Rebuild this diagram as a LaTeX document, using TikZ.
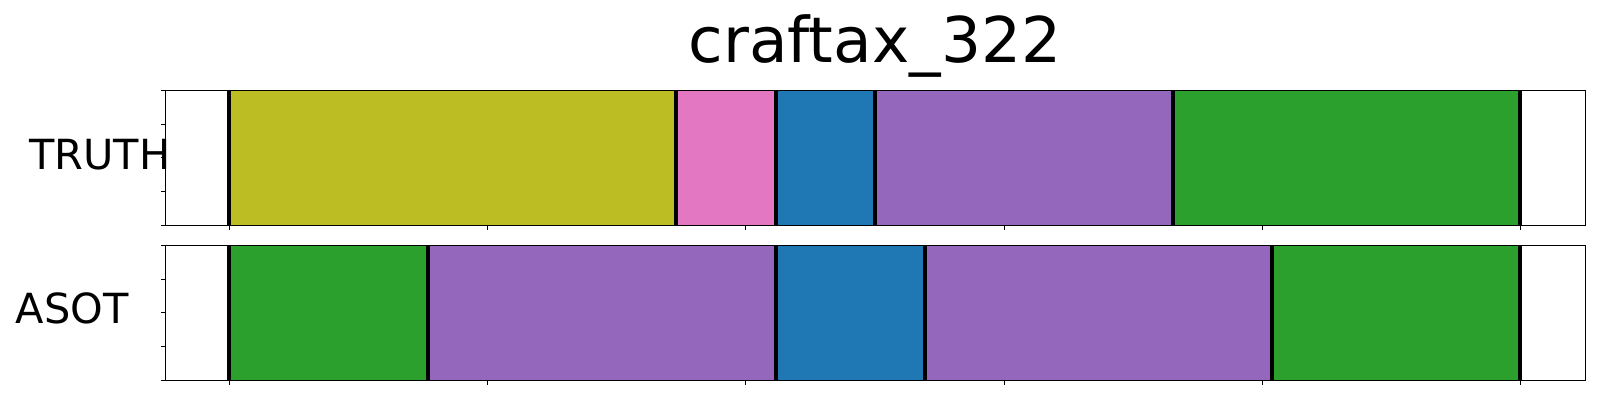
\documentclass[tikz,border=0pt]{standalone}
\usepackage{fontspec}
\setmainfont{DejaVu Sans}
\definecolor{tabolive}{HTML}{BCBD22}
\definecolor{tabpink}{HTML}{E377C2}
\definecolor{tabblue}{HTML}{1F77B4}
\definecolor{tabpurple}{HTML}{9467BD}
\definecolor{tabgreen}{HTML}{2CA02C}
\tikzstyle{frame}=[draw=black, line width=0.6pt]
\tikzstyle{cut}=[-, line width=2pt, black]
\tikzstyle{tickmark}=[-, line width=0.5pt, black]
\tikzstyle{rowlabel}=[inner sep=0pt, anchor=base west, font=\fontsize{20.75}{24}\selectfont]

\begin{document}
\begin{tikzpicture}[x=0.5pt, y=-0.5pt]
    \useasboundingbox (0,0) rectangle (1600,400);

    % TRUTH row
    \foreach \a/\b/\c in {229/675.7/tabolive, 675.7/775.7/tabpink, 775.7/874.7/tabblue,
                          874.7/1173/tabpurple, 1173/1520/tabgreen}
        \fill [\c] (\a,90.3) rectangle (\b,225.3);
    \foreach \x in {229,675.7,775.7,874.7,1173,1520}
        \draw [cut] (\x,90.3) -- (\x,225.3);
    \draw [frame] (165.7,90.3) rectangle (1585.7,225.3);

    % ASOT row
    \foreach \a/\b/\c in {229/428/tabgreen, 428/775.7/tabpurple, 775.7/924.7/tabblue,
                          924.7/1272/tabpurple, 1272/1520/tabgreen}
        \fill [\c] (\a,245.3) rectangle (\b,380.3);
    \foreach \x in {229,428,775.7,924.7,1272,1520}
        \draw [cut] (\x,245.3) -- (\x,380.3);
    \draw [frame] (165.7,245.3) rectangle (1585.7,380.3);

    % ticks
    \foreach \t in {90.3,245.3} {
        \foreach \k in {0,...,4}
            \draw [tickmark] (165.7,\t+33.75*\k) -- ++(-5,0);
        \foreach \k in {0,...,5}
            \draw [tickmark] (229.3+258.3*\k,\t+135) -- ++(0,5);
    }

    \node [inner sep=0pt, anchor=base, font=\fontsize{31.5}{36}\selectfont] (title) at (875,62.7) {craftax\_322};
    \node [rowlabel] (truth) at (29,169.3) {TRUTH};
    \node [rowlabel] (asot) at (15.5,324) {ASOT};
\end{tikzpicture}
\end{document}
